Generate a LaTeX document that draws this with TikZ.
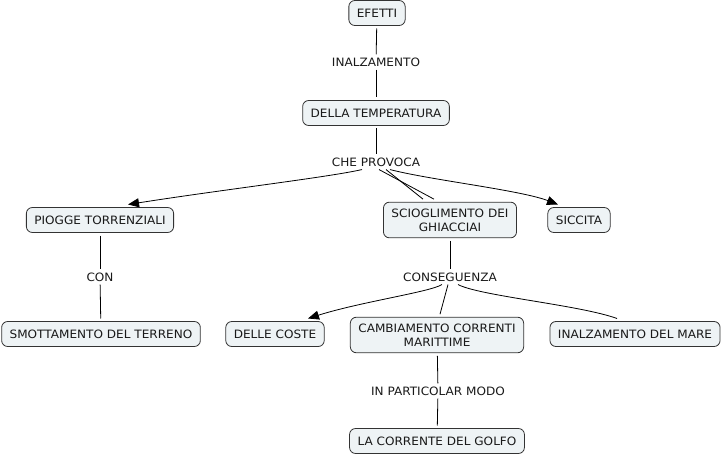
\documentclass[tikz,border=0pt]{standalone}
\usepackage{fontspec}
\setmainfont[FakeStretch=1.05]{DejaVu Sans}
\usepackage{xcolor}
\usetikzlibrary{arrows.meta}
\definecolor{conceptfill}{HTML}{EEF3F5}
\definecolor{conceptline}{HTML}{333333}

\begin{document}
\begin{tikzpicture}[x=1pt,y=-1pt]
\tikzset{every node/.style={font=\fontsize{11.5}{14}\selectfont,text=black!90},
         concept/.style={draw=conceptline,fill=conceptfill,rounded corners=6pt,line width=0.8pt,
                         inner xsep=8pt,minimum height=25pt,align=center,outer sep=3pt},
         twoline/.style={inner ysep=6.5pt},
         linkword/.style={inner sep=3pt},
         link/.style={draw,line width=0.8pt},
         linkarrow/.style={link,-{Triangle[length=11pt,width=9pt]}}}
\useasboundingbox (0,0) rectangle (722,457);
% concepts
\node[concept] (efetti) at (377,13) {EFETTI};
\node[concept] (temp) at (376,113) {DELLA TEMPERATURA};
\node[concept] (piogge) at (100,220) {PIOGGE TORRENZIALI};
\node[concept,twoline] (sciog) at (450,220) {SCIOGLIMENTO DEI\\GHIACCIAI};
\node[concept] (siccita) at (579,220) {SICCITA};
\node[concept] (smott) at (101,334) {SMOTTAMENTO DEL TERRENO};
\node[concept] (coste) at (275,334) {DELLE COSTE};
\node[concept,twoline] (cambio) at (437,335) {CAMBIAMENTO CORRENTI\\MARITTIME};
\node[concept] (mare) at (635,334) {INALZAMENTO DEL MARE};
\node[concept] (golfo) at (437,441) {LA CORRENTE DEL GOLFO};
% linking words
\node[linkword] (inalz) at (376,62) {INALZAMENTO};
\node[linkword] (provoca) at (376,162) {CHE PROVOCA};
\node[linkword] (con) at (100,277) {CON};
\node[linkword] (conseg) at (450,277) {CONSEGUENZA};
\node[linkword] (modo) at (438,391) {IN PARTICOLAR MODO};
% links
\draw[link] (efetti) -- (inalz);
\draw[link] (inalz) -- (temp);
\draw[link] (temp) -- (provoca);
\draw[linkarrow] ([xshift=-14pt]provoca.south) .. controls (330,177) and (220,190) .. ([xshift=28pt]piogge.north);
\draw[link] ([xshift=3pt]provoca.south) -- ([xshift=-16pt]sciog.north);
\draw[link] ([xshift=10pt]provoca.south) -- ([xshift=-27pt]sciog.north);
\draw[linkarrow] ([xshift=14pt]provoca.south) .. controls (430,180) and (520,190) .. ([xshift=-21pt]siccita.north);
\draw[link] (piogge) -- (con);
\draw[link] (con) -- (smott);
\draw[link] (sciog) -- (conseg);
\draw[linkarrow] ([xshift=-8pt]conseg.south) .. controls (430,292) and (360,302) .. ([xshift=33pt]coste.north);
\draw[link] ([xshift=-2pt]conseg.south) -- ([xshift=3pt]cambio.north);
\draw[link] ([xshift=8pt]conseg.south) .. controls (480,296) and (580,305) .. ([xshift=-18pt]mare.north);
\draw[link] (cambio) -- (modo);
\draw[link] (modo) -- (golfo);
\end{tikzpicture}
\end{document}
